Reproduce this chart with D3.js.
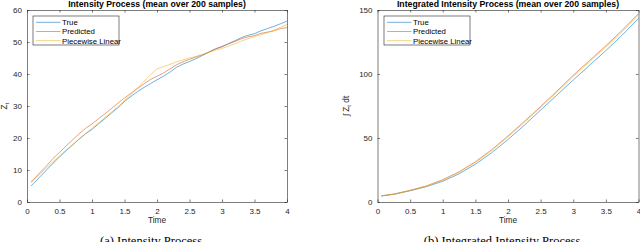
<!DOCTYPE html>
<html><head><meta charset="utf-8">
<script src="https://cdn.jsdelivr.net/npm/d3@7"></script>
<style>
html,body{margin:0;padding:0;background:#fff;}
svg{display:block;}
</style></head>
<body>
<svg id="chart" width="640" height="242"></svg>
<script>
// ---------- data ----------
const seriesNames = ["True", "Predicted", "Piecewise Linear"];
const seriesColors = ["#0072BD", "#D95319", "#EDB120"];

const timeGrid = [0.06,0.1,0.2,0.3,0.4,0.5,0.6,0.7,0.8,0.9,1.0,1.1,1.2,1.3,1.4,1.5,1.6,1.7,1.8,1.9,2.0,
  2.1,2.2,2.3,2.4,2.5,2.6,2.7,2.8,2.9,3.0,3.1,3.2,3.3,3.4,3.5,3.6,3.7,3.8,3.9,4.0];

const intensityTrue = [5.0,5.8,7.9,10.0,12.1,14.1,16.0,17.8,19.6,21.3,22.7,24.4,26.1,27.8,29.5,31.4,33.0,34.5,35.8,37.0,38.2,
  39.3,40.6,42.1,43.1,43.9,44.8,45.8,46.9,47.8,48.5,49.5,50.4,51.4,52.1,52.6,53.5,54.2,54.9,55.7,56.5];
const intensityPred = [6.3,7.0,9.2,11.3,13.6,15.5,17.5,19.4,21.3,23.0,24.4,26.0,27.6,29.2,30.9,32.5,34.0,35.5,36.9,38.3,39.3,
  40.3,41.6,42.9,43.8,44.6,45.3,46.0,46.8,47.9,48.6,49.4,50.2,51.0,51.6,52.0,52.7,53.1,53.5,54.2,54.5];
const intensityPwl = [6.1,6.8,8.8,10.7,12.6,14.4,16.2,17.9,19.7,21.4,23.0,24.7,26.4,28.1,29.8,31.7,33.6,35.6,37.7,39.8,41.6,
  42.3,43.0,43.8,44.4,45.0,45.5,46.2,46.8,47.4,48.0,48.7,49.5,50.3,51.0,51.7,52.3,52.9,53.7,54.6,55.5];

const timeGridInt = [0.06,0.25,0.5,0.75,1.0,1.25,1.5,1.75,2.0,2.25,2.5,2.75,3.0,3.25,3.5,3.75,4.0];
const integratedTrue = [4.7,6.0,8.8,12.0,16.2,22.0,29.5,38.5,48.8,60.0,71.8,83.6,95.3,106.8,118.3,130.4,143.5];
const integratedPred = [4.8,6.2,9.1,12.6,17.4,23.6,31.4,40.9,51.6,63.0,74.6,86.7,99.0,110.6,122.1,134.2,147.2];
const integratedPwl  = [4.8,6.1,9.0,12.4,17.1,23.2,30.9,40.2,50.9,62.2,73.9,85.8,98.0,109.6,121.1,133.2,146.2];

const xTicks = [0,0.5,1,1.5,2,2.5,3,3.5,4];
const yTicksLeft = [0,10,20,30,40,50,60];
const yTicksRight = [0,50,100,150];

// ---------- drawing ----------
const svg = d3.select("#chart");
const axColor = "#262626";
const fontSans = "'Liberation Sans', Arial, Helvetica, sans-serif";

function panel(opts) {
  const {x0, x1, y0, y1, yMax, yTicks, times, series, title, ylabel, caption, legendX} = opts;
  const x = d3.scaleLinear().domain([0, 4]).range([x0, x1]);
  const y = d3.scaleLinear().domain([0, yMax]).range([y1, y0]);
  const g = svg.append("g");

  // lines
  const line = d3.line().x((d, i) => x(times[i])).y(d => y(d));
  series.forEach((s, k) => {
    g.append("path").datum(s).attr("d", line)
      .attr("fill", "none").attr("stroke", seriesColors[k]).attr("stroke-opacity", 0.75)
      .attr("stroke-width", 0.75).attr("stroke-linejoin", "round");
  });

  // axes (ticks inward, box)
  const fmt = d3.format("~g");
  const axB = d3.axisBottom(x).tickValues(xTicks).tickFormat(fmt).tickSizeInner(-2.5).tickSizeOuter(0).tickPadding(6);
  const axT = d3.axisTop(x).tickValues(xTicks).tickFormat("").tickSizeInner(-2.5).tickSizeOuter(0);
  const axL = d3.axisLeft(y).tickValues(yTicks).tickFormat(fmt).tickSizeInner(-2.5).tickSizeOuter(0).tickPadding(5);
  const axR = d3.axisRight(y).tickValues(yTicks).tickFormat("").tickSizeInner(-2.5).tickSizeOuter(0);
  const axes = [
    g.append("g").attr("transform", `translate(0,${y1})`).call(axB),
    g.append("g").attr("transform", `translate(0,${y0})`).call(axT),
    g.append("g").attr("transform", `translate(${x0},0)`).call(axL),
    g.append("g").attr("transform", `translate(${x1},0)`).call(axR)
  ];
  axes.forEach(a => {
    a.selectAll("path").attr("stroke", axColor).attr("stroke-width", 0.6);
    a.selectAll("line").attr("stroke", axColor).attr("stroke-width", 0.6);
    a.selectAll("text").attr("fill", axColor).attr("font-family", fontSans).attr("font-size", 8);
  });

  // title
  g.append("text").attr("x", (x0 + x1) / 2).attr("y", 6.5).attr("text-anchor", "middle")
    .attr("font-family", fontSans).attr("font-weight", "bold").attr("font-size", 8.7)
    .attr("fill", "#000").text(title);
  // x label
  g.append("text").attr("x", (x0 + x1) / 2).attr("y", 223).attr("text-anchor", "middle")
    .attr("font-family", fontSans).attr("font-size", 8.3).attr("fill", axColor).text("Time");
  // y label
  const yl = g.append("text").attr("transform", `translate(${opts.ylabelX},${(y0 + y1) / 2}) rotate(-90)`)
    .attr("text-anchor", "middle").attr("font-family", fontSans).attr("font-size", 8.3).attr("fill", axColor);
  ylabel(yl);

  // caption (cropped at bottom edge, as in the reference)
  g.append("text").attr("x", opts.captionX).attr("y", 245).attr("text-anchor", "middle")
    .attr("font-family", "'Liberation Serif', 'Times New Roman', serif").attr("font-size", 12.5)
    .attr("fill", "#000").text(caption);

  // legend
  const lg = g.append("g");
  lg.append("rect").attr("x", legendX).attr("y", 16).attr("width", 86).attr("height", 29)
    .attr("fill", "#fff").attr("stroke", axColor).attr("stroke-width", 0.6);
  seriesNames.forEach((n, k) => {
    const yy = 22.3 + k * 9.2;
    lg.append("line").attr("x1", legendX + 3).attr("x2", legendX + 27.5).attr("y1", yy).attr("y2", yy)
      .attr("stroke", seriesColors[k]).attr("stroke-opacity", 0.75).attr("stroke-width", 0.75);
    lg.append("text").attr("x", legendX + 29).attr("y", yy + 2.8).attr("font-family", fontSans)
      .attr("font-size", 7.8).attr("fill", "#000").text(n);
  });
}

panel({
  x0: 27, x1: 287, y0: 10, y1: 202, yMax: 60, yTicks: yTicksLeft,
  times: timeGrid, series: [intensityTrue, intensityPred, intensityPwl],
  title: "Intensity Process (mean over 200 samples)",
  ylabelX: 7,
  ylabel: t => { t.append("tspan").text("Z"); t.append("tspan").attr("font-size", 6).attr("dy", 2).text("t"); },
  caption: "(a) Intensity Process", captionX: 151, legendX: 33
});

panel({
  x0: 377.5, x1: 638.5, y0: 10, y1: 202, yMax: 150, yTicks: yTicksRight,
  times: timeGridInt, series: [integratedTrue, integratedPred, integratedPwl],
  title: "Integrated Intensity Process (mean over 200 samples)",
  ylabelX: 349,
  ylabel: t => { t.append("tspan").text("\u222B Z"); t.append("tspan").attr("font-size", 6).attr("dy", 2).text("t");
                 t.append("tspan").attr("dy", -2).text(" dt"); },
  caption: "(b) Integrated Intensity Process", captionX: 502, legendX: 384
});
</script>
</body></html>
